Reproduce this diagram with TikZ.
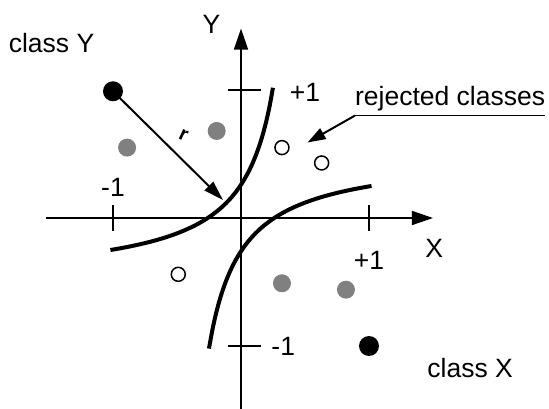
\documentclass[tikz,border=0pt]{standalone}
\usepackage{fontspec}
\setmainfont{Liberation Sans}
\usetikzlibrary{arrows.meta}

\tikzset{
  axisline/.style={line width=1.5pt, -{Triangle[length=21pt,width=14pt]}},
  tickline/.style={line width=1.5pt},
  boundary/.style={line width=4pt},
  pointer/.style={line width=2pt, -{Triangle[length=20pt,width=12pt]}},
  classdot/.style={circle, fill=black, minimum size=20pt, inner sep=0pt},
  sampledot/.style={circle, fill=gray, minimum size=18pt, inner sep=0pt},
  rejectdot/.style={circle, draw, line width=1.5pt, minimum size=14pt, inner sep=0pt},
  lbl/.style={inner sep=0pt}
}

\begin{document}
\begin{tikzpicture}[x=128pt,y=128pt,font=\fontsize{26.5}{30}\selectfont]
    \useasboundingbox (-1.8828,-1.4844) rectangle (2.4063,1.7031);

    \coordinate (xl) at (-1.52,0);
    \coordinate (xr) at (1.50,0);
    \coordinate (yb) at (0,-1.50);
    \coordinate (yt) at (0,1.48);
    \draw[axisline] (xl) -- (xr);
    \draw[axisline] (yb) -- (yt);

    \draw[tickline] (-1,0.10) -- (-1,-0.10);
    \draw[tickline] (1,0.10) -- (1,-0.10);
    \draw[tickline] (-0.10,1) -- (0.16,1);
    \draw[tickline] (-0.10,-1) -- (0.16,-1);

    \node[lbl] (xlab) at (1.51,-0.24) {X};
    \node[lbl] (ylab) at (-0.23,1.51) {Y};
    \node[lbl] (xminus) at (-1.0,0.24) {-1};
    \node[lbl] (xplus) at (1.0,-0.33) {+1};
    \node[lbl] (yplus) at (0.50,0.98) {+1};
    \node[lbl] (yminus) at (0.33,-1.0) {-1};
    \node[lbl] (classy) at (-1.48,1.37) {class Y};
    \node[lbl] (classx) at (1.79,-1.17) {class X};

    \draw[boundary] plot[domain=-1.02:0.25, samples=50, smooth]
      (\x, {-0.5+0.38/(0.5-\x)});
    \draw[boundary] plot[domain=-0.25:1.02, samples=50, smooth]
      (\x, {0.5-0.38/(\x+0.5)});

    \node[classdot] (doty) at (-1.0,0.99) {};
    \node[classdot] (dotx) at (1.0,-1.0) {};
    \node[sampledot] (g1) at (-0.89,0.55) {};
    \node[sampledot] (g2) at (-0.19,0.68) {};
    \node[sampledot] (g3) at (0.32,-0.51) {};
    \node[sampledot] (g4) at (0.82,-0.56) {};
    \node[rejectdot] (r1) at (0.32,0.55) {};
    \node[rejectdot] (r2) at (0.63,0.43) {};
    \node[rejectdot] (r3) at (-0.49,-0.44) {};

    \coordinate (hit) at (-0.14,0.14);
    \draw[pointer] (doty.center) -- (hit);
    \node[lbl, rotate=-25, font=\fontsize{20}{20}\selectfont\bfseries]
      (rmark) at (-0.45,0.65) {r};

    \node[anchor=south west, inner xsep=0pt, inner ysep=4pt] (rej)
      at (0.89,0.80) {rejected classes};
    \coordinate (rtip) at (0.52,0.59);
    \draw[line width=1.5pt] (rej.south west) -- (rej.south east);
    \draw[pointer, -{Triangle[length=18pt,width=12pt]}] (rej.south west) -- (rtip);
  \end{tikzpicture}
\end{document}
